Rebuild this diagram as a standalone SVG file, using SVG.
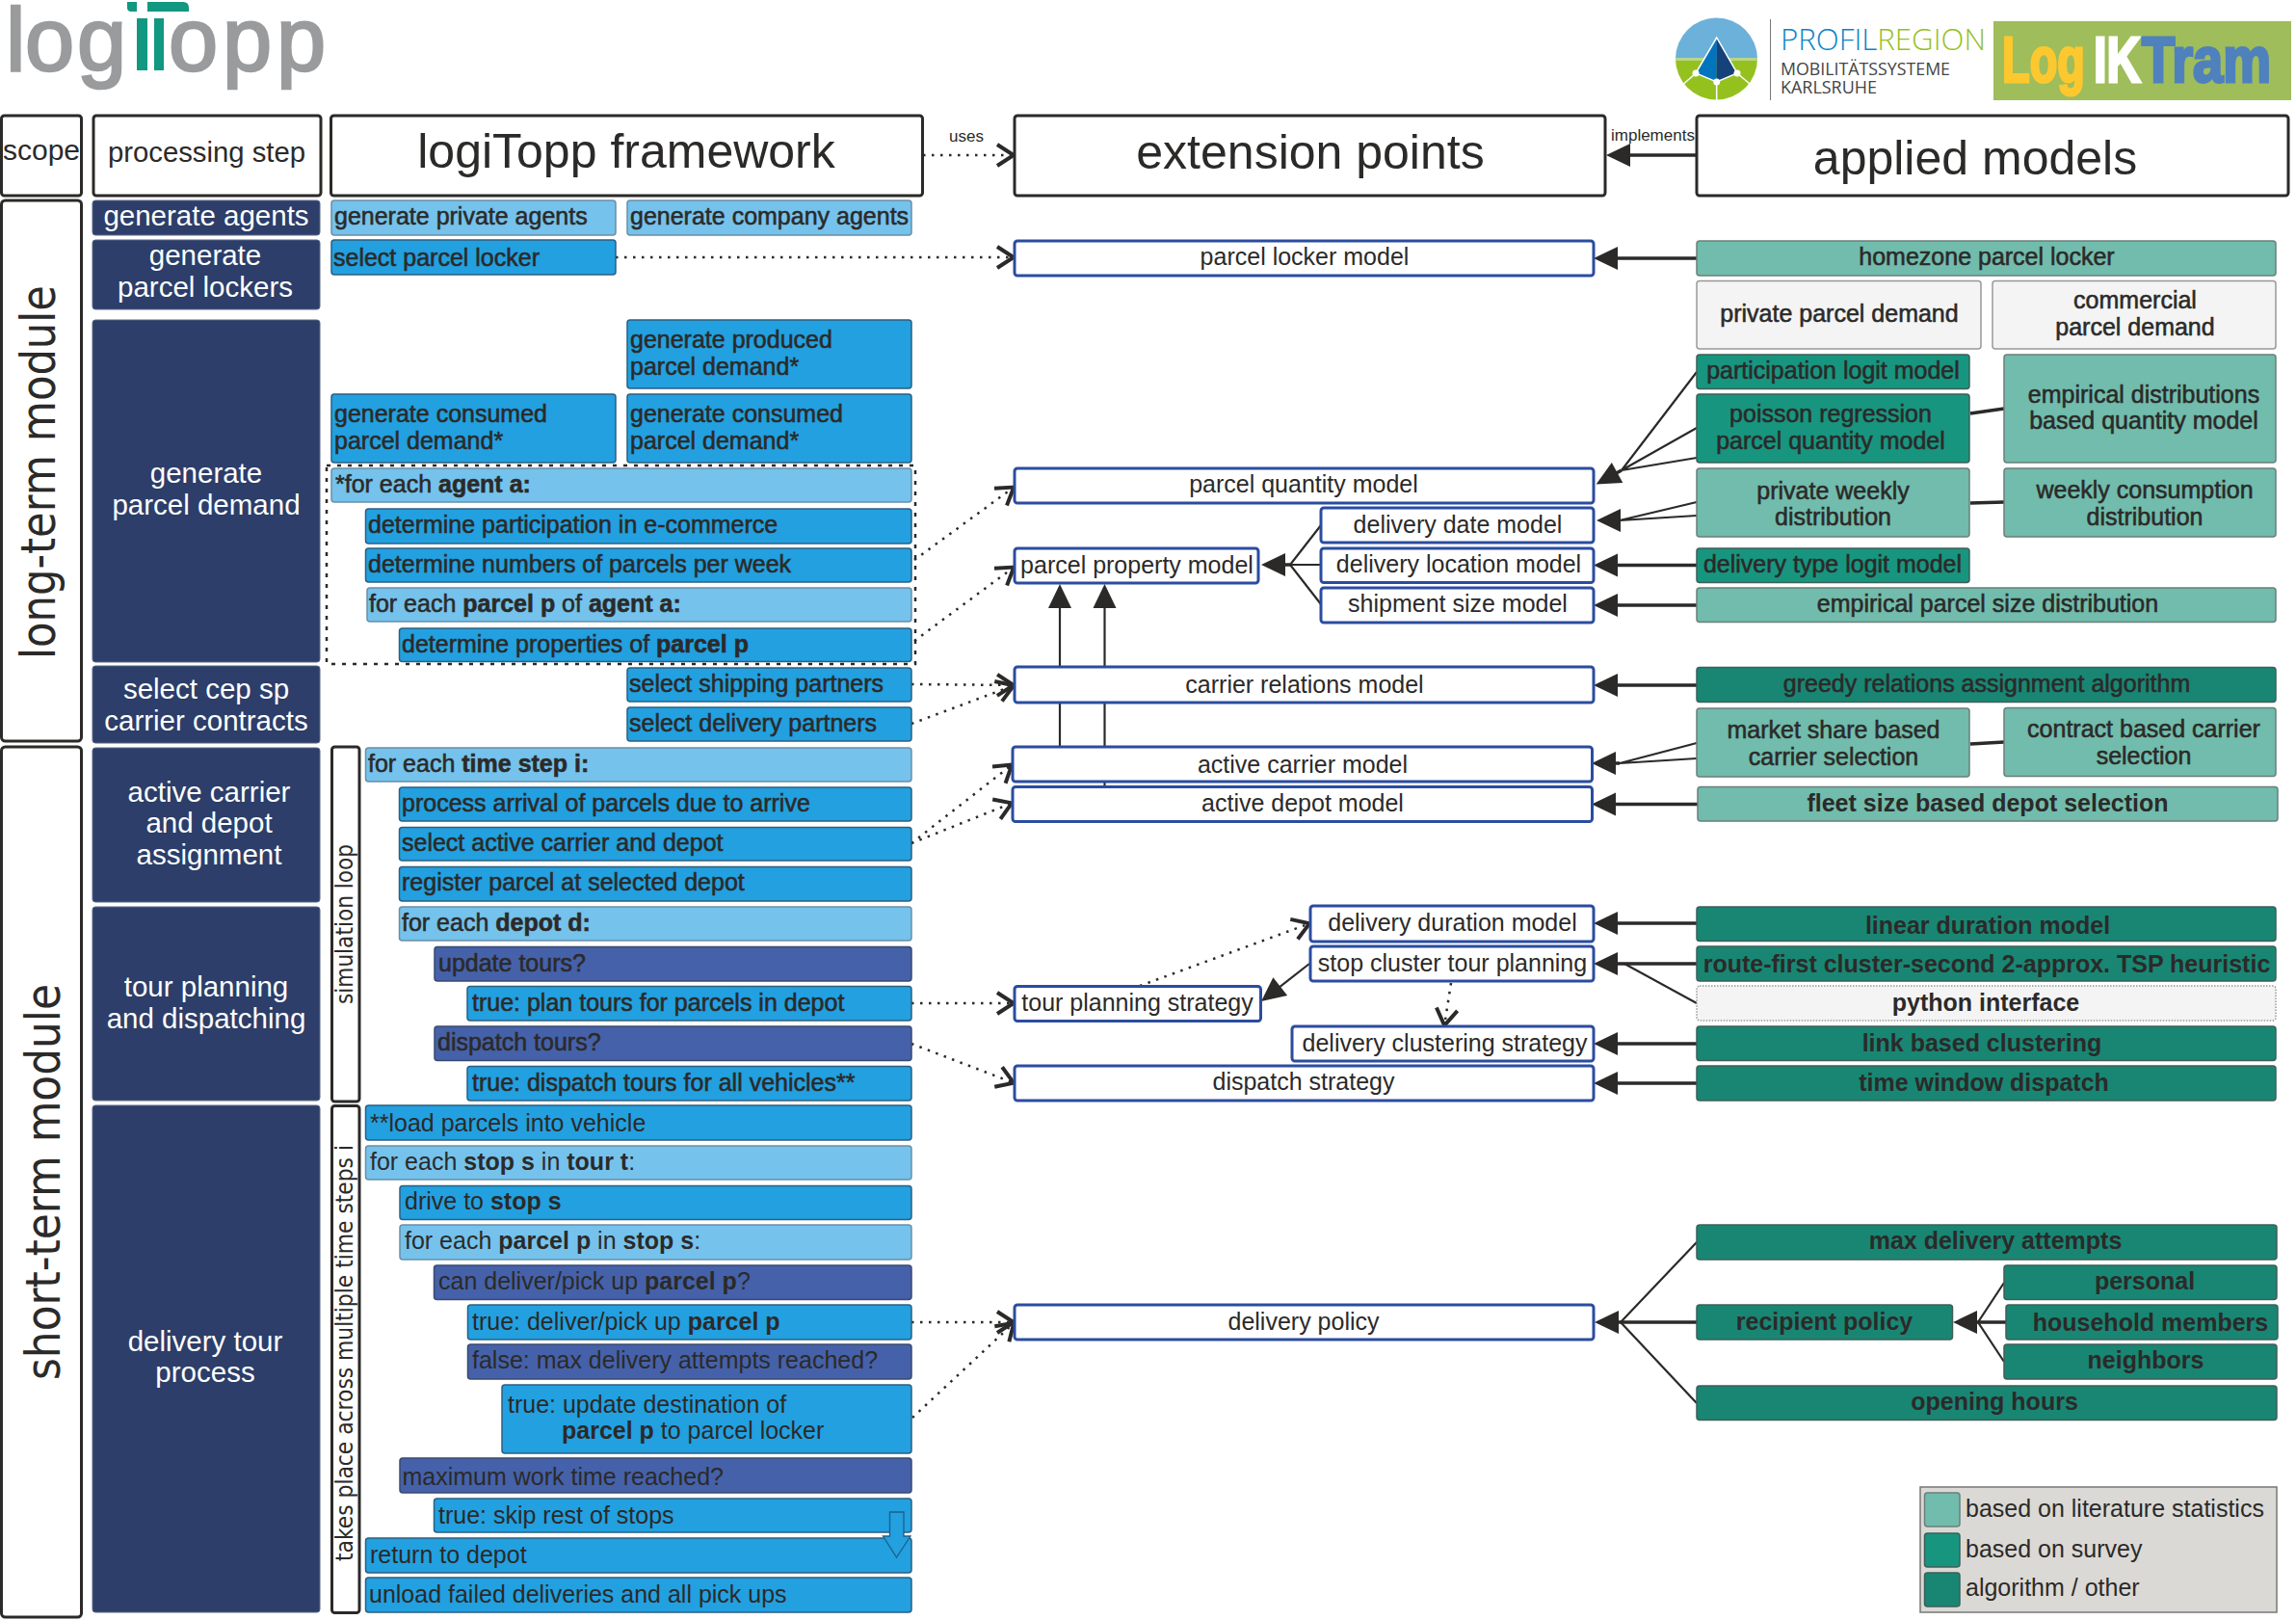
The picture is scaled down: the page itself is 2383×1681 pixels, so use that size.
<svg xmlns="http://www.w3.org/2000/svg" width="2383" height="1681" viewBox="0 0 2383 1681">
<style>
text{font-family:"Liberation Sans",Arial,sans-serif;font-size:25px;fill:#2b2a29}
.c{text-anchor:middle}
.w{fill:#fff;font-size:29.5px;text-anchor:middle}
.s{stroke:#2b2a29;stroke-width:.55px}
.b{font-weight:bold}
.v{font-family:"DejaVu Sans",sans-serif;font-size:50px}
.hd{fill:#fff;stroke:#2b2a29;stroke-width:3}
.navy{fill:#2c3e69;stroke:#5a6685;stroke-width:1}
.blue{fill:#22a0e0;stroke:#2c5f80;stroke-width:1.5}
.lb{fill:#75c2ec;stroke:#6a8ea6;stroke-width:1.5}
.pu{fill:#4561a9;stroke:#3a4a70;stroke-width:1.5}
.mod{fill:#fff;stroke:#2b4c9f;stroke-width:3}
.t1{fill:#71bcac;stroke:#6a7f7a;stroke-width:1.5}
.t2{fill:#18957f;stroke:#3d5f58;stroke-width:1.5}
.t3{fill:#198673;stroke:#3d5f58;stroke-width:1.5}
.g{fill:#f4f4f4;stroke:#999;stroke-width:1.5}
.line{fill:none;stroke:#2b2a29;stroke-width:3.5}
.thin{fill:none;stroke:#2b2a29;stroke-width:2.2}
.dot{fill:none;stroke:#2b2a29;stroke-width:2.5;stroke-dasharray:2.5 6.5}
.logo{font-size:92px;fill:#9a9b9d;stroke:#9a9b9d;stroke-width:2.5px}
</style>
<defs>
<marker id="fillhead" markerUnits="userSpaceOnUse" markerWidth="30" markerHeight="30" refX="21" refY="13" orient="auto"><path d="M26,13 L1,1 L1,25 Z" fill="#2b2a29"/></marker>
<marker id="openhead" markerUnits="userSpaceOnUse" markerWidth="28" markerHeight="30" refX="22" refY="14" orient="auto"><path d="M4,3 L21,14 L4,25" fill="none" stroke="#2b2a29" stroke-width="4"/></marker>
</defs>

<g id="logos">
<g id="logo-logitopp">
<text class="logo" x="6 26 80" y="73">log</text>
<text class="logo" x="175 231 287" y="73">opp</text>
<rect x="142" y="19" width="11" height="54" fill="#129781"/>
<rect x="160" y="19" width="10" height="54" fill="#129781"/>
<path d="M132,2 H142 V12 H136 Q132,12 132,8 Z M153,2 H190 Q196,2 196,8 V12 H153 Z" fill="#129781"/>
</g>
<g id="logo-profilregion">
<path d="M1739,61 A42.5,42.5 0 0 1 1824,61 Z" fill="#6cb1da"/>
<path d="M1739,61 A42.5,42.5 0 0 0 1824,61 Z" fill="#95c11f"/>
<rect x="1739" y="60" width="85" height="3" fill="#b9d58a"/>
<path d="M1760,76 L1747.5,87 M1803,76 L1816,87 M1781.7,85 V104" stroke="#fff" stroke-width="1.5" fill="none"/>
<path d="M1781.7,39 L1760,76 L1781.7,85 Z" fill="#0075bd"/>
<path d="M1781.7,39 L1803,76 L1781.7,85 Z" fill="#16427a"/>
<path d="M1781.7,39 L1760,76 L1781.7,85 L1803,76 Z" fill="none" stroke="#fff" stroke-width="1.5"/>
<circle cx="1760" cy="76" r="3.5" fill="#fff"/><circle cx="1803" cy="76" r="3.5" fill="#fff"/><circle cx="1781.7" cy="85" r="3.5" fill="#fff"/>
<path d="M1837.5,20 V104" stroke="#777" stroke-width="1"/>
<text x="1848" y="52" textLength="213" lengthAdjust="spacingAndGlyphs" style="font-family:'Open Sans',sans-serif;font-size:31px;font-weight:300;fill:#0a84c6">PROFIL<tspan style="fill:#95c11f;font-size:31px">REGION</tspan></text>
<text x="1848" y="78" textLength="176" lengthAdjust="spacingAndGlyphs" style="font-family:'Open Sans',sans-serif;font-size:18px;fill:#444">MOBILITÄTSSYSTEME</text>
<text x="1848" y="97" textLength="100" lengthAdjust="spacingAndGlyphs" style="font-family:'Open Sans',sans-serif;font-size:18px;fill:#444">KARLSRUHE</text>
</g>
<g id="logo-logiktram">
<rect x="2069" y="22" width="309" height="82" fill="#9fbd5b"/>
<text y="85" style="font-size:66px;font-weight:bold"><tspan x="2078" textLength="86" lengthAdjust="spacingAndGlyphs" style="font-size:66px;fill:#fdc82f;stroke:#fdc82f;stroke-width:3px">Log</tspan><tspan x="2173" textLength="49" lengthAdjust="spacingAndGlyphs" style="font-size:66px;fill:#fff;stroke:#fff;stroke-width:3px">IK</tspan><tspan x="2223" textLength="134" lengthAdjust="spacingAndGlyphs" style="font-size:66px;fill:#4f81bd;stroke:#4f81bd;stroke-width:3px">Tram</tspan></text>
</g>
</g>

<g id="connectors">
<path class="dot" d="M958,161 H1053" marker-end="url(#openhead)"/>
<text x="985" y="147" style="font-size:17px">uses</text>
<path class="line" d="M1761,161 H1672" marker-end="url(#fillhead)"/>
<text x="1672" y="146" style="font-size:17px">implements</text>
<path class="dot" d="M639,267 H1053" marker-end="url(#openhead)"/>
<path class="line" d="M1761,268 H1659" marker-end="url(#fillhead)"/>
<path class="thin" d="M1761,386 L1683,488 M1761,444 L1683,488 M1761,475 L1683,488"/>
<path class="line" d="M1683,488 L1661,500" marker-end="url(#fillhead)"/>
<path class="line" d="M2045,429 L2080,424 M2045,522 L2080,521 M2045,772 L2080,770"/>
<path class="thin" d="M1761,521 L1681,540 M1761,535 L1681,540"/>
<path class="line" d="M1681,540 H1662" marker-end="url(#fillhead)"/>
<path class="line" d="M1761,586.500 H1659" marker-end="url(#fillhead)"/>
<path class="line" d="M1761,628 H1659" marker-end="url(#fillhead)"/>
<path class="thin" d="M1371,545 L1339,586 L1371,627 M1371,586 H1339"/>
<path class="line" d="M1339,586 H1314" marker-end="url(#fillhead)"/>
<path class="thin" d="M1100,775 V611" marker-end="url(#fillhead)"/>
<path class="thin" d="M1146.500,816 V611" marker-end="url(#fillhead)"/>
<path class="dot" d="M949,581 L1053,505" marker-end="url(#openhead)"/>
<path class="dot" d="M949,665 L1053,588" marker-end="url(#openhead)"/>
<path class="dot" d="M946,710 L1053,711" marker-end="url(#openhead)"/>
<path class="dot" d="M946,751 L1053,711" marker-end="url(#openhead)"/>
<path class="dot" d="M946,875 L1051,793" marker-end="url(#openhead)"/>
<path class="dot" d="M946,875 L1051,833" marker-end="url(#openhead)"/>
<path class="dot" d="M946,1041 H1053" marker-end="url(#openhead)"/>
<path class="dot" d="M946,1083 L1053,1124" marker-end="url(#openhead)"/>
<path class="dot" d="M946,1372 H1053" marker-end="url(#openhead)"/>
<path class="dot" d="M947,1471 L1053,1372" marker-end="url(#openhead)"/>
<path class="line" d="M1761,711 H1659" marker-end="url(#fillhead)"/>
<path class="thin" d="M1761,771 L1681,792 M1761,787 L1681,792"/>
<path class="line" d="M1681,792 H1657" marker-end="url(#fillhead)"/>
<path class="line" d="M1762,834.500 H1657" marker-end="url(#fillhead)"/>
<path class="line" d="M1761,958 H1659" marker-end="url(#fillhead)"/>
<path class="line" d="M1761,1000 H1659" marker-end="url(#fillhead)"/>
<path class="thin" d="M1761,1041 L1686,1000"/>
<path class="line" d="M1761,1083 H1659" marker-end="url(#fillhead)"/>
<path class="line" d="M1761,1124 H1659" marker-end="url(#fillhead)"/>
<path class="dot" d="M1183,1023 L1360,958" marker-end="url(#openhead)"/>
<path class="thin" d="M1359,1000 L1313,1036" marker-end="url(#fillhead)"/>
<path class="dot" d="M1506,1020 L1499,1065" marker-end="url(#openhead)"/>
<path class="line" d="M1761,1372 H1660" marker-end="url(#fillhead)"/>
<path class="thin" d="M1761,1289 L1682,1372 L1761,1456"/>
<path class="line" d="M2082,1372 H2032" marker-end="url(#fillhead)"/>
<path class="thin" d="M2080,1331 L2053,1372 L2080,1413"/>
</g>

<g id="headers">
<g id="h-scope"><rect class="hd" x="1.500" y="120" width="83" height="83" rx="3"/><text class="c" x="43" y="166" style="font-size:30px">scope</text></g>
<g id="h-step"><rect class="hd" x="97" y="120" width="236" height="83" rx="3"/><text class="c" x="214.500" y="168" style="font-size:29.300px">processing step</text></g>
<g id="h-framework"><rect class="hd" x="343.500" y="120" width="614" height="83" rx="3"/><text class="c" x="650" y="174" style="font-size:50px">logiTopp framework</text></g>
<g id="h-ext"><rect class="hd" x="1053" y="120" width="613" height="83" rx="3"/><text class="c" x="1360" y="175" style="font-size:50px">extension points</text></g>
<g id="h-applied"><rect class="hd" x="1761" y="120" width="614" height="83" rx="3"/><text class="c" x="2050" y="181" style="font-size:50px">applied models</text></g>
</g>

<g id="scopes">
<g id="scope-long"><rect x="1.500" y="208" width="83" height="561" rx="4" fill="#fff" stroke="#2b2a29" stroke-width="3"/><text transform="translate(57,684) rotate(-90)" textLength="388" lengthAdjust="spacingAndGlyphs" class="v">long-term module</text></g>
<g id="scope-short"><rect x="1.500" y="775" width="83" height="903" rx="4" fill="#fff" stroke="#2b2a29" stroke-width="3"/><text transform="translate(62,1432) rotate(-90)" textLength="411" lengthAdjust="spacingAndGlyphs" class="v">short-term module</text></g>
<g id="loop-sim"><rect x="344.500" y="775" width="28.500" height="368" rx="3" fill="#fff" stroke="#2b2a29" stroke-width="3"/><text transform="translate(366,1042) rotate(-90)" textLength="166" lengthAdjust="spacingAndGlyphs" style="font-family:'DejaVu Sans',sans-serif;font-size:24px">simulation loop</text></g>
<g id="loop-takes"><rect x="344.500" y="1147.500" width="28.500" height="526" rx="3" fill="#fff" stroke="#2b2a29" stroke-width="3"/><text transform="translate(366,1620) rotate(-90)" textLength="432" lengthAdjust="spacingAndGlyphs" style="font-family:'DejaVu Sans',sans-serif;font-size:24px">takes place across multiple time steps i</text></g>
</g>

<g id="steps">
<g id="s-agents"><rect class="navy" x="96" y="208" width="236" height="36" rx="3"/><text class="w" x="214" y="234">generate agents</text></g>
<g id="s-lockers"><rect class="navy" x="96" y="249" width="236" height="72" rx="3"/><text class="w" x="213" y="275">generate</text><text class="w" x="213" y="308">parcel lockers</text></g>
<g id="s-demand"><rect class="navy" x="96" y="332" width="236" height="355" rx="3"/><text class="w" x="214" y="501">generate</text><text class="w" x="214" y="534">parcel demand</text></g>
<g id="s-cep"><rect class="navy" x="96" y="691" width="236" height="80" rx="3"/><text class="w" x="214" y="725">select cep sp</text><text class="w" x="214" y="758">carrier contracts</text></g>
<g id="s-active"><rect class="navy" x="96" y="776" width="236" height="160" rx="3"/><text class="w" x="217" y="832">active carrier</text><text class="w" x="217" y="864">and depot</text><text class="w" x="217" y="897">assignment</text></g>
<g id="s-tour"><rect class="navy" x="96" y="941" width="236" height="201" rx="3"/><text class="w" x="214" y="1034">tour planning</text><text class="w" x="214" y="1067">and dispatching</text></g>
<g id="s-delivery"><rect class="navy" x="96" y="1147" width="236" height="526" rx="3"/><text class="w" x="213" y="1402">delivery tour</text><text class="w" x="213" y="1434">process</text></g>
</g>

<g id="framework">
<rect id="agent-loop-frame" x="339" y="483" width="611" height="206" fill="none" stroke="#2b2a29" stroke-width="2.500" stroke-dasharray="4 7"/>
<g id="f1"><rect class="lb" x="344" y="208" width="295" height="36" rx="3"/><text class="s" x="347" y="233">generate private agents</text></g>
<g id="f2"><rect class="lb" x="651" y="208" width="295" height="36" rx="3"/><text class="s" x="654" y="233">generate company agents</text></g>
<g id="f3"><rect class="blue" x="344" y="249" width="295" height="36" rx="3"/><text class="s" x="346" y="276">select parcel locker</text></g>
<g id="f4"><rect class="blue" x="651" y="332" width="295" height="71" rx="3"/><text class="s" x="654" y="361">generate produced</text><text class="s" x="654" y="389">parcel demand*</text></g>
<g id="f5"><rect class="blue" x="344" y="409" width="295" height="71" rx="3"/><text class="s" x="347" y="438">generate consumed</text><text class="s" x="347" y="466">parcel demand*</text></g>
<g id="f6"><rect class="blue" x="651" y="409" width="295" height="71" rx="3"/><text class="s" x="654" y="438">generate consumed</text><text class="s" x="654" y="466">parcel demand*</text></g>
<g id="f7"><rect class="lb" x="344" y="486" width="602" height="35" rx="3"/><text class="s" x="348" y="511">*for each <tspan class="b">agent a:</tspan></text></g>
<g id="f8"><rect class="blue" x="379.500" y="528" width="566.500" height="36" rx="3"/><text class="s" x="382" y="553">determine participation in e-commerce</text></g>
<g id="f9"><rect class="blue" x="379.500" y="569" width="566.500" height="35" rx="3"/><text class="s" x="382" y="594">determine numbers of parcels per week</text></g>
<g id="f10"><rect class="lb" x="381" y="610" width="565" height="35" rx="3"/><text class="s" x="383" y="635">for each <tspan class="b">parcel p</tspan> of <tspan class="b">agent a:</tspan></text></g>
<g id="f11"><rect class="blue" x="414.500" y="652" width="531.500" height="34.500" rx="3"/><text class="s" x="417" y="677">determine properties of <tspan class="b">parcel p</tspan></text></g>
<g id="f12"><rect class="blue" x="651" y="693" width="295" height="35" rx="3"/><text class="s" x="653" y="718">select shipping partners</text></g>
<g id="f13"><rect class="blue" x="651" y="734" width="295" height="35" rx="3"/><text class="s" x="653" y="759">select delivery partners</text></g>
<g id="f14"><rect class="lb" x="379.500" y="776" width="566.500" height="35" rx="3"/><text class="s" x="382" y="801">for each <tspan class="b">time step i:</tspan></text></g>
<g id="f15"><rect class="blue" x="414.500" y="817" width="531.500" height="35" rx="3"/><text class="s" x="417" y="842">process arrival of parcels due to arrive</text></g>
<g id="f16"><rect class="blue" x="414.500" y="858.500" width="531.500" height="34.500" rx="3"/><text class="s" x="417" y="883">select active carrier and depot</text></g>
<g id="f17"><rect class="blue" x="414.500" y="899.500" width="531.500" height="35.500" rx="3"/><text class="s" x="417" y="924">register parcel at selected depot</text></g>
<g id="f18"><rect class="lb" x="414.500" y="941" width="531.500" height="35" rx="3"/><text class="s" x="417" y="966">for each <tspan class="b">depot d:</tspan></text></g>
<g id="f19"><rect class="pu" x="451" y="982.500" width="495" height="35.500" rx="3"/><text class="s" x="455" y="1008">update tours?</text></g>
<g id="f20"><rect class="blue" x="485" y="1023.500" width="461" height="35.500" rx="3"/><text class="s" x="490" y="1049">true: plan tours for parcels in depot</text></g>
<g id="f21"><rect class="pu" x="451" y="1065" width="495" height="35.500" rx="3"/><text class="s" x="454" y="1090">dispatch tours?</text></g>
<g id="f22"><rect class="blue" x="485" y="1106.500" width="461" height="35.500" rx="3"/><text class="s" x="490" y="1132">true: dispatch tours for all vehicles**</text></g>
<g id="f23"><rect class="blue" x="379.500" y="1147" width="566.500" height="36" rx="3"/><text x="384" y="1174">**load parcels into vehicle</text></g>
<g id="f24"><rect class="lb" x="379.500" y="1189" width="566.500" height="35" rx="3"/><text x="384" y="1214">for each <tspan class="b">stop s</tspan> in <tspan class="b">tour t</tspan>:</text></g>
<g id="f25"><rect class="blue" x="415" y="1230.500" width="531" height="35" rx="3"/><text x="420" y="1255">drive to <tspan class="b">stop s</tspan></text></g>
<g id="f26"><rect class="lb" x="415" y="1271" width="531" height="36" rx="3"/><text x="420" y="1296">for each <tspan class="b">parcel p</tspan> in <tspan class="b">stop s</tspan>:</text></g>
<g id="f27"><rect class="pu" x="450.500" y="1313" width="495.500" height="35.500" rx="3"/><text x="455" y="1338">can deliver/pick up <tspan class="b">parcel p</tspan>?</text></g>
<g id="f28"><rect class="blue" x="485.500" y="1354" width="460.500" height="36" rx="3"/><text x="490" y="1380">true: deliver/pick up <tspan class="b">parcel p</tspan></text></g>
<g id="f29"><rect class="pu" x="485.500" y="1395" width="460.500" height="36" rx="3"/><text x="490" y="1420">false: max delivery attempts reached?</text></g>
<g id="f30"><rect class="blue" x="521" y="1437" width="425" height="71" rx="3"/><text x="527" y="1465.500">true: update destination of</text><text x="583" y="1493"><tspan class="b">parcel p</tspan> to parcel locker</text></g>
<g id="f31"><rect class="pu" x="415" y="1513" width="531" height="36" rx="3"/><text x="417.500" y="1541">maximum work time reached?</text></g>
<g id="f32"><rect class="blue" x="450.500" y="1555" width="495.500" height="35" rx="3"/><text x="455" y="1581">true: skip rest of stops</text></g>
<g id="f33"><rect class="blue" x="379.500" y="1596" width="566.500" height="36" rx="3"/><text x="384" y="1622">return to depot</text></g>
<g id="f34"><rect class="blue" x="379.500" y="1637" width="566.500" height="36" rx="3"/><text x="383" y="1663">unload failed deliveries and all pick ups</text></g>
<polygon id="skip-arrow" points="923.500,1569 938,1569 938,1594 945,1594 930.500,1616 916.500,1594 923.500,1594" fill="#22a0e0" stroke="#1f5f85" stroke-width="1.300"/>
</g>

<g id="extension-points">
<g id="e1"><rect class="mod" x="1053" y="250" width="601" height="36" rx="3"/><text class="c" x="1354" y="275">parcel locker model</text></g>
<g id="e2"><rect class="mod" x="1053" y="486" width="601" height="36" rx="3"/><text class="c" x="1353" y="511">parcel quantity model</text></g>
<g id="e3"><rect class="mod" x="1371" y="527" width="283" height="36" rx="3"/><text class="c" x="1513" y="553">delivery date model</text></g>
<g id="e4"><rect class="mod" x="1053" y="569" width="253" height="36" rx="3"/><text class="c" x="1180" y="595">parcel property model</text></g>
<g id="e5"><rect class="mod" x="1371" y="569" width="283" height="35.500" rx="3"/><text class="c" x="1514" y="594">delivery location model</text></g>
<g id="e6"><rect class="mod" x="1371" y="610" width="283" height="36" rx="3"/><text class="c" x="1513" y="635">shipment size model</text></g>
<g id="e7"><rect class="mod" x="1053" y="692" width="601" height="37" rx="3"/><text class="c" x="1354" y="719">carrier relations model</text></g>
<g id="e8"><rect class="mod" x="1051" y="775" width="601.500" height="36" rx="3"/><text class="c" x="1352" y="802">active carrier model</text></g>
<g id="e9"><rect class="mod" x="1051" y="816.500" width="601.500" height="36" rx="3"/><text class="c" x="1352" y="842">active depot model</text></g>
<g id="e10"><rect class="mod" x="1360" y="940" width="294" height="37" rx="3"/><text class="c" x="1507.500" y="966">delivery duration model</text></g>
<g id="e11"><rect class="mod" x="1360" y="982" width="294" height="36" rx="3"/><text class="c" x="1507.500" y="1008">stop cluster tour planning</text></g>
<g id="e12"><rect class="mod" x="1053" y="1023.500" width="255.500" height="36" rx="3"/><text class="c" x="1180.500" y="1049">tour planning strategy</text></g>
<g id="e13"><rect class="mod" x="1341" y="1065" width="313" height="36" rx="3"/><text class="c" x="1499.500" y="1091">delivery clustering strategy</text></g>
<g id="e14"><rect class="mod" x="1053" y="1106" width="601" height="36" rx="3"/><text class="c" x="1353" y="1131">dispatch strategy</text></g>
<g id="e15"><rect class="mod" x="1053" y="1354" width="601" height="36" rx="3"/><text class="c" x="1353" y="1380">delivery policy</text></g>
</g>

<g id="applied-models">
<g id="m1"><rect class="t1" x="1761" y="250" width="601" height="36" rx="3"/><text class="c s" x="2062" y="275">homezone parcel locker</text></g>
<g id="m2"><rect class="g" x="1761" y="291.500" width="295" height="70.500" rx="3"/><text class="c s" x="1909" y="334">private parcel demand</text></g>
<g id="m3"><rect class="g" x="2068" y="291.500" width="294" height="70.500" rx="3"/><text class="c s" x="2216" y="320">commercial</text><text class="c s" x="2216" y="348">parcel demand</text></g>
<g id="m4"><rect class="t2" x="1761" y="368" width="283" height="35.500" rx="3"/><text class="c s" x="1902.500" y="393">participation logit model</text></g>
<g id="m5"><rect class="t2" x="1761" y="409" width="283" height="71" rx="3"/><text class="c s" x="1900" y="438">poisson regression</text><text class="c s" x="1900" y="466">parcel quantity model</text></g>
<g id="m6"><rect class="t1" x="2080" y="368" width="282" height="112" rx="3"/><text class="c s" x="2225" y="418">empirical distributions</text><text class="c s" x="2225" y="445">based quantity model</text></g>
<g id="m7"><rect class="t1" x="1761" y="486" width="283" height="71" rx="3"/><text class="c s" x="1902.500" y="518">private weekly</text><text class="c s" x="1902.500" y="545">distribution</text></g>
<g id="m8"><rect class="t1" x="2080" y="486" width="282" height="71" rx="3"/><text class="c s" x="2226" y="517">weekly consumption</text><text class="c s" x="2226" y="545">distribution</text></g>
<g id="m9"><rect class="t2" x="1761" y="569" width="283" height="35.500" rx="3"/><text class="c s" x="1902" y="594">delivery type logit model</text></g>
<g id="m10"><rect class="t1" x="1761" y="610" width="601" height="35.500" rx="3"/><text class="c s" x="2063" y="635">empirical parcel size distribution</text></g>
<g id="m11"><rect class="t3" x="1761" y="692.500" width="601" height="36" rx="3"/><text class="c s" x="2062" y="718">greedy relations assignment algorithm</text></g>
<g id="m12"><rect class="t1" x="1761" y="735" width="283" height="71" rx="3"/><text class="c s" x="1903" y="766">market share based</text><text class="c s" x="1903" y="794">carrier selection</text></g>
<g id="m13"><rect class="t1" x="2080" y="734.500" width="282" height="71" rx="3"/><text class="c s" x="2225" y="765">contract based carrier</text><text class="c s" x="2225" y="793">selection</text></g>
<g id="m14"><rect class="t1" x="1762" y="816.500" width="602" height="35.500" rx="3"/><text class="c b" x="2063" y="842">fleet size based depot selection</text></g>
<g id="m15"><rect class="t3" x="1761" y="941" width="601" height="35.500" rx="3"/><text class="c b" x="2063" y="969">linear duration model</text></g>
<g id="m16"><rect class="t3" x="1761" y="982" width="601" height="36" rx="3"/><text class="c b" x="2062" y="1009">route-first cluster-second 2-approx. TSP heuristic</text></g>
<g id="m17"><rect x="1761" y="1023" width="601" height="36" rx="3" fill="#f4f4f4" stroke="#999" stroke-width="1.500" stroke-dasharray="1.500 1.500"/><text class="c b" x="2061" y="1049">python interface</text></g>
<g id="m18"><rect class="t3" x="1761" y="1065" width="601" height="35.500" rx="3"/><text class="c b" x="2057" y="1091">link based clustering</text></g>
<g id="m19"><rect class="t3" x="1761" y="1106" width="601" height="36" rx="3"/><text class="c b" x="2059" y="1132">time window dispatch</text></g>
<g id="m20"><rect class="t3" x="1761" y="1271" width="602" height="36" rx="3"/><text class="c b" x="2071" y="1296">max delivery attempts</text></g>
<g id="m21"><rect class="t3" x="2080" y="1313" width="283" height="35.500" rx="3"/><text class="c b" x="2226" y="1338">personal</text></g>
<g id="m22"><rect class="t3" x="1761" y="1354" width="265.500" height="36" rx="3"/><text class="c b" x="1893.500" y="1380">recipient policy</text></g>
<g id="m23"><rect class="t3" x="2082" y="1354" width="282" height="36" rx="3"/><text class="c b" x="2232" y="1381">household members</text></g>
<g id="m24"><rect class="t3" x="2080" y="1395" width="283" height="36" rx="3"/><text class="c b" x="2227" y="1420">neighbors</text></g>
<g id="m25"><rect class="t3" x="1761" y="1438" width="602" height="35.500" rx="3"/><text class="c b" x="2070" y="1463">opening hours</text></g>
</g>

<g id="legend">
<rect x="1993" y="1543" width="370" height="130" fill="#dbd9d5" stroke="#777" stroke-width="1.500"/>
<rect class="t1" x="1997.500" y="1549" width="36.500" height="35" rx="3"/><text x="2040" y="1574">based on literature statistics</text>
<rect class="t2" x="1997.500" y="1591" width="36.500" height="35" rx="3"/><text x="2040" y="1616">based on survey</text>
<rect class="t3" x="1997.500" y="1632" width="36.500" height="35" rx="3"/><text x="2040" y="1656">algorithm / other</text>
</g>
</svg>
